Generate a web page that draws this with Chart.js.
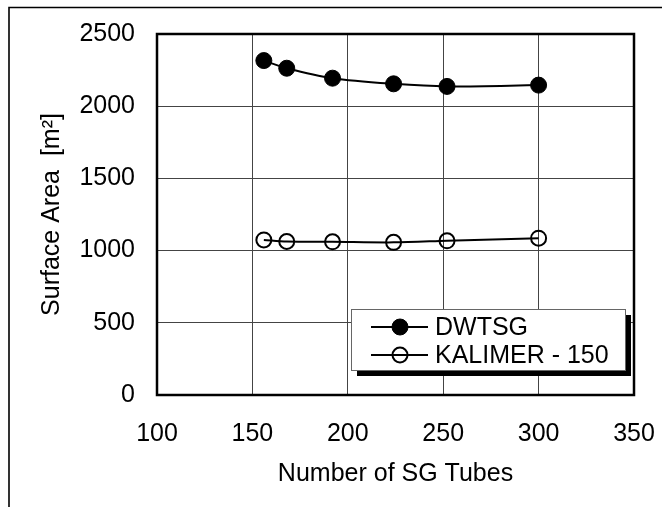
<!DOCTYPE html>
<html>
<head>
<meta charset="utf-8">
<script src="https://cdn.jsdelivr.net/npm/chart.js@4.4.1/dist/chart.umd.min.js"></script>
<style>
  html, body { margin: 0; padding: 0; background: #fff; }
  canvas { display: block; }
</style>
</head>
<body>
<canvas id="chart" width="662" height="507"></canvas>
<script>
// values
const tubes = [156, 168, 192, 224, 252, 300];
const dwtsgArea = [2316, 2263, 2194, 2155, 2137, 2146];
const kalimerArea = [1074, 1063, 1061, 1057, 1068, 1086];
const seriesNames = ['DWTSG', 'KALIMER - 150'];
const xTicks = [100, 150, 200, 250, 300, 350];
const yTicks = [0, 500, 1000, 1500, 2000, 2500];

const FONT = "'Liberation Sans', Arial, sans-serif";
const FS = 25;

const toPoints = (xs, ys) => xs.map((x, i) => ({ x, y: ys[i] }));

// white page plus the thin frame at top and left of the original figure
const pageFrame = {
    id: 'pageFrame',
    beforeDraw(chart) {
        const ctx = chart.ctx;
        ctx.save();
        ctx.fillStyle = '#fff';
        ctx.fillRect(0, 0, chart.width, chart.height);
        ctx.strokeStyle = '#000';
        ctx.lineWidth = 1.6;
        ctx.beginPath();
        ctx.moveTo(chart.width, 7.5);
        ctx.lineTo(9, 7.5);
        ctx.lineTo(9, chart.height);
        ctx.stroke();
        ctx.restore();
    }
};

// heavy box round the plot area
const plotFrame = {
    id: 'plotFrame',
    beforeDatasetsDraw(chart) {
        const { ctx, chartArea: a } = chart;
        ctx.save();
        ctx.strokeStyle = '#000';
        ctx.lineWidth = 2.5;
        ctx.strokeRect(a.left, a.top, a.right - a.left, a.bottom - a.top);
        ctx.restore();
    }
};

// Excel style legend: white box with a solid drop shadow
const boxLegend = {
    id: 'boxLegend',
    afterDraw(chart) {
        const { ctx, chartArea: a } = chart;
        const x = a.left + 194, y = 309, w = 274, h = 61;
        ctx.save();
        ctx.fillStyle = '#000';
        ctx.fillRect(x + 6, y + 6, w, h);
        ctx.fillStyle = '#fff';
        ctx.fillRect(x, y, w, h);
        ctx.strokeStyle = '#666';
        ctx.lineWidth = 1;
        ctx.strokeRect(x + 0.5, y + 0.5, w, h);

        chart.data.datasets.forEach((ds, i) => {
            const ly = y + 18 + i * 28;
            ctx.strokeStyle = '#000';
            ctx.lineWidth = 2;
            ctx.beginPath();
            ctx.moveTo(x + 20, ly);
            ctx.lineTo(x + 77, ly);
            ctx.stroke();
            ctx.beginPath();
            ctx.arc(x + 49, ly, ds.pointRadius, 0, Math.PI * 2);
            if (ds.pointBackgroundColor !== 'rgba(0,0,0,0)') {
                ctx.fillStyle = ds.pointBackgroundColor;
                ctx.fill();
            }
            ctx.lineWidth = ds.pointBorderWidth;
            ctx.stroke();
            ctx.fillStyle = '#000';
            ctx.font = FS + 'px ' + FONT;
            ctx.textBaseline = 'middle';
            ctx.textAlign = 'left';
            ctx.fillText(ds.label, x + 84, ly + 1);
        });
        ctx.restore();
    }
};

new Chart(document.getElementById('chart'), {
    type: 'scatter',
    data: {
        datasets: [{
            label: seriesNames[0],
            data: toPoints(tubes, dwtsgArea),
            showLine: true,
            borderColor: '#000',
            borderWidth: 2,
            tension: 0.3,
            pointRadius: 8,
            pointBackgroundColor: '#000',
            pointBorderColor: '#000',
            pointBorderWidth: 1,
        }, {
            label: seriesNames[1],
            data: toPoints(tubes, kalimerArea),
            showLine: true,
            borderColor: '#000',
            borderWidth: 2,
            tension: 0.3,
            pointRadius: 7.5,
            pointBackgroundColor: 'rgba(0,0,0,0)',
            pointBorderColor: '#000',
            pointBorderWidth: 2,
        }]
    },
    options: {
        responsive: false,
        animation: false,
        layout: { padding: { left: 0, right: 28, top: 34, bottom: 0 } },
        plugins: {
            legend: { display: false },
            tooltip: { enabled: false },
        },
        scales: {
            x: {
                type: 'linear',
                min: xTicks[0],
                max: xTicks[xTicks.length - 1],
                afterBuildTicks: (s) => { s.ticks = xTicks.map(v => ({ value: v })); },
                afterFit: (s) => { s.height = 112; s.paddingLeft = 0; s.paddingRight = 0; },
                grid: { color: '#444', lineWidth: 1, drawTicks: false },
                border: { display: false },
                ticks: {
                    color: '#000', padding: 24,
                    font: { family: FONT, size: FS },
                    callback: (v) => String(v),
                },
                title: {
                    display: true,
                    text: 'Number of SG Tubes',
                    color: '#000',
                    font: { family: FONT, size: FS },
                    padding: { top: 0, bottom: 18 },
                },
            },
            y: {
                min: yTicks[0],
                max: yTicks[yTicks.length - 1],
                afterBuildTicks: (s) => { s.ticks = yTicks.map(v => ({ value: v })); },
                afterFit: (s) => { s.width = 157; s.paddingTop = 0; s.paddingBottom = 0; },
                grid: { color: '#444', lineWidth: 1, drawTicks: false },
                border: { display: false },
                ticks: {
                    color: '#000', padding: 22,
                    font: { family: FONT, size: FS },
                    callback: (v) => String(v),
                },
                title: {
                    display: true,
                    text: 'Surface Area  [m²]',
                    color: '#000',
                    font: { family: FONT, size: FS },
                    padding: { top: 37, bottom: 0 },
                },
            },
        },
    },
    plugins: [pageFrame, plotFrame, boxLegend],
});
</script>
</body>
</html>
